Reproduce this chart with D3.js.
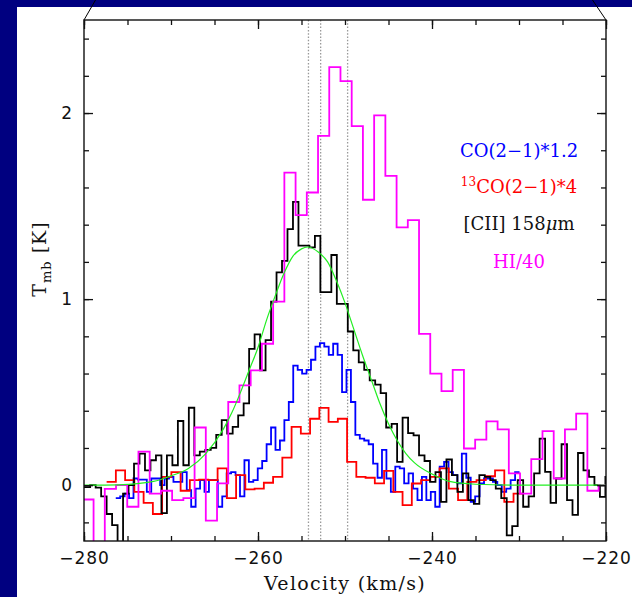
<!DOCTYPE html>
<html>
<head>
<meta charset="utf-8">
<script src="https://cdn.jsdelivr.net/npm/d3@7"></script>
<style>
body { margin: 0; background: #000080; }
svg { display: block; }
</style>
</head>
<body>
<svg width="632" height="597"></svg>
<script>

// [CII] 158um, 0.63 km/s channels
var ciiStart = -280.55, ciiWidth = 0.63;
var ciiValues = [
    -0.01, -0.01, 0.0, -0.013, -0.06, -0.155, -0.215, -0.4, -0.045, 0.0,
    0.116, 0.17, 0.08, 0.134, 0.16, -0.15, 0.16, 0.107, 0.345, 0.107,
    0.416, 0.16, 0.18, 0.19, 0.2, 0.27, 0.35, 0.277, 0.313, 0.375,
    0.44, 0.733, 0.81, 0.617, 0.78, 0.987, 1.144, 1.206, 1.376, 1.523,
    1.287, 1.287, 1.278, 1.34, 1.037, 1.037, 1.237, 0.974, 0.974, 0.826,
    0.724, 0.66, 0.62, 0.563, 0.54, 0.495, 0.31, 0.33, 0.125, 0.363,
    0.28, 0.268, 0.16, 0.13, 0.018, 0.07, -0.09, 0.138, 0.054, -0.036,
    0.063, -0.08, -0.1, 0.054, 0.045, 0.027, -0.018, -0.07, -0.27, -0.22,
    0.027, -0.116, -0.06, 0.063, 0.25, 0.071, -0.095, 0.036, 0.22, -0.08,
    -0.16, 0.173, 0.08, 0.045, 0.0, -0.063, 0.045
];

// CO(2-1)*1.2, 0.51 km/s channels
var coStart = -276.35, coWidth = 0.51;
var coValues = [
    -0.07, -0.06, -0.045, -0.07, 0.036, 0.03, 0.03, -0.036, 0.036, 0.036,
    0.0, 0.036, 0.045, 0.018, 0.018, 0.07, -0.027, -0.116, -0.018, 0.027,
    -0.036, 0.027, 0.027, -0.116, -0.06, 0.063, 0.07, 0.054, -0.06, 0.134,
    0.018, 0.027, 0.09, 0.13, 0.22, 0.31, 0.19, 0.24, 0.35, 0.447,
    0.643, 0.62, 0.60, 0.62, 0.674, 0.745, 0.763, 0.745, 0.70, 0.76,
    0.70, 0.5, 0.62, 0.447, 0.27, 0.25, 0.24, 0.22, 0.116, 0.04,
    0.19, 0.036, -0.036, 0.1, 0.09, 0.01, 0.063, -0.018, -0.08, 0.045,
    -0.08, -0.036, -0.116, 0.1, 0.125, 0.07, 0.054, 0.01, 0.17, 0.04,
    -0.09, -0.06, 0.009, 0.036, 0.036, 0.018, 0.0, -0.036, -0.018, 0.027,
    0.07
];

// 13CO(2-1)*4, 1.063 km/s channels
var co13Start = -277.4, co13Width = 1.063;
var co13Values = [
    0.018, 0.08, 0.027, -0.036, -0.095, -0.155, 0.045, 0.07, -0.03, 0.027,
    0.03, 0.027, 0.09, -0.07, 0.054, -0.023, -0.018, 0.013, 0.045, 0.148,
    0.313, 0.277, 0.357, 0.415, 0.34, 0.357, 0.125, 0.045, 0.04, 0.01,
    0.077, -0.036, -0.107, 0.009, 0.027, 0.045, 0.09, -0.018, -0.08, 0.018,
    0.027, 0.048, 0.08, -0.09, -0.045
];

// HI/40, 1.29 km/s channels
var hiStart = -280.19, hiWidth = 1.29;
var hiValues = [
    -0.077, -0.4, -0.02, 0.0, -0.116, 0.18, -0.045, -0.03, -0.08, -0.07,
    0.31, -0.19, 0.01, 0.447, 0.536, 0.617, 0.76, 0.987, 1.68, 1.451,
    1.573, 1.877, 2.247, 2.172, 1.93, 1.534, 1.987, 1.662, 1.385, 1.424,
    0.813, 0.60, 0.506, 0.62, 0.197, 0.245, 0.343, 0.30, 0.063, -0.045,
    0.14, 0.29, 0.036, 0.30, 0.385, -0.03, 0.0
];

// gaussian fit to [CII]
var fitVelocity = [-280, -276, -272, -270, -268, -266, -264, -263, -262, -261,
    -260, -259, -258, -257, -256, -255, -254.3, -253, -252, -251,
    -250, -249, -248, -247, -246, -245, -244, -243, -242, -240,
    -238, -235, -230, -220];
var fitValues = [0.0, 0.002, 0.02, 0.05, 0.09, 0.17, 0.30, 0.39, 0.50, 0.62,
    0.74, 0.89, 1.02, 1.14, 1.23, 1.27, 1.28, 1.25, 1.20, 1.10,
    0.98, 0.84, 0.70, 0.57, 0.44, 0.33, 0.24, 0.17, 0.12, 0.06,
    0.02, 0.005, 0.0, 0.0];

var markerVelocities = [-254.2, -252.8, -249.7];

var xMajorTicks = [-280, -260, -240, -220];
var yMajorTicks = [0, 1, 2];

var svg = d3.select("svg");

var x = d3.scaleLinear().domain([-280, -220]).range([84, 606]);
var y = d3.scaleLinear().domain([-0.3, 2.5]).range([541, 20]);

// white panel + zoom lines from the figure above
svg.append("rect")
    .attr("x", 17).attr("y", 7)
    .attr("width", 615).attr("height", 590)
    .attr("fill", "#fff");
svg.append("line").attr("x1", 95.5).attr("y1", 0).attr("x2", 84).attr("y2", 20)
    .attr("stroke", "#000").attr("stroke-width", 1);
svg.append("line").attr("x1", 592.5).attr("y1", 0).attr("x2", 606).attr("y2", 20)
    .attr("stroke", "#000").attr("stroke-width", 1);

svg.append("clipPath").attr("id", "plotclip")
    .append("rect")
    .attr("x", 84).attr("y", 20)
    .attr("width", 522).attr("height", 521);

var plot = svg.append("g").attr("clip-path", "url(#plotclip)");

plot.selectAll("line.marker")
    .data(markerVelocities)
    .enter().append("line")
    .attr("class", "marker")
    .attr("x1", function(d) { return x(d); })
    .attr("x2", function(d) { return x(d); })
    .attr("y1", y(2.5)).attr("y2", y(-0.3))
    .attr("stroke", "#999")
    .attr("stroke-width", 1.3)
    .attr("stroke-dasharray", "1.5,1.8");

function stepPoints(start, width, values) {
    var pts = values.map(function(v, i) { return [start + i * width, v]; });
    pts.push([start + values.length * width, values[values.length - 1]]);
    return pts;
}

var stepLine = d3.line()
    .x(function(d) { return x(d[0]); })
    .y(function(d) { return y(d[1]); })
    .curve(d3.curveStepAfter);

var spectra = [
    {pts: stepPoints(coStart, coWidth, coValues), color: "#0000ff"},
    {pts: stepPoints(co13Start, co13Width, co13Values), color: "#ff0000"},
    {pts: stepPoints(ciiStart, ciiWidth, ciiValues), color: "#000000"},
    {pts: stepPoints(hiStart, hiWidth, hiValues), color: "#ff00ff"}
];

plot.selectAll("path.spec")
    .data(spectra)
    .enter().append("path")
    .attr("class", "spec")
    .attr("d", function(d) { return stepLine(d.pts); })
    .attr("fill", "none")
    .attr("stroke", function(d) { return d.color; })
    .attr("stroke-width", 1.8)
    .attr("stroke-linejoin", "miter");

var fitLine = d3.line()
    .x(function(d, i) { return x(fitVelocity[i]); })
    .y(function(d) { return y(d); })
    .curve(d3.curveMonotoneX);

plot.append("path")
    .attr("d", fitLine(fitValues))
    .attr("fill", "none")
    .attr("stroke", "#22ee22")
    .attr("stroke-width", 1.2);

// frame
svg.append("rect")
    .attr("x", 84).attr("y", 20)
    .attr("width", 522).attr("height", 521)
    .attr("fill", "none")
    .attr("stroke", "#111")
    .attr("stroke-width", 1.4);

// axes, ticks pointing inward
function drawAxis(axis, tx, ty) {
    var g = svg.append("g")
        .attr("transform", "translate(" + tx + "," + ty + ")")
        .call(axis);
    g.select(".domain").remove();
    g.selectAll("line").attr("stroke", "#111").attr("stroke-width", 1.3);
    g.selectAll("text")
        .attr("fill", "#111")
        .style("font-family", "DejaVu Sans")
        .style("font-size", "17px")
        .style("letter-spacing", "1px");
    return g;
}

var xMinor = d3.range(-280, -219, 5);
var yMinor = d3.range(-2, 25, 2).map(function(d) { return d / 10; });

drawAxis(d3.axisBottom(x).tickValues(xMinor).tickSize(-5).tickFormat(""), 0, 541);
drawAxis(d3.axisBottom(x).tickValues(xMajorTicks).tickSize(-9).tickPadding(11), 0, 541);
drawAxis(d3.axisTop(x).tickValues(xMinor).tickSize(-5).tickFormat(""), 0, 20);
drawAxis(d3.axisTop(x).tickValues(xMajorTicks).tickSize(-9).tickFormat(""), 0, 20);
drawAxis(d3.axisLeft(y).tickValues(yMinor).tickSize(-5).tickFormat(""), 84, 0);
drawAxis(d3.axisLeft(y).tickValues(yMajorTicks).tickSize(-9).tickPadding(11).tickFormat(d3.format("d")), 84, 0);
drawAxis(d3.axisRight(y).tickValues(yMinor).tickSize(-5).tickFormat(""), 606, 0);
drawAxis(d3.axisRight(y).tickValues(yMajorTicks).tickSize(-9).tickFormat(""), 606, 0);

// axis titles
svg.append("text")
    .attr("x", 345).attr("y", 590)
    .attr("text-anchor", "middle")
    .style("font-family", "DejaVu Serif")
    .style("font-size", "19px")
    .style("letter-spacing", "1.3px")
    .attr("fill", "#111")
    .text("Velocity (km/s)");

var ylab = svg.append("text")
    .attr("transform", "translate(46,259) rotate(-90)")
    .attr("text-anchor", "middle")
    .style("font-family", "DejaVu Serif")
    .style("font-size", "19px")
    .style("letter-spacing", "1px")
    .attr("fill", "#111");
ylab.append("tspan").text("T");
ylab.append("tspan").attr("dy", 5).style("font-size", "13px").text("mb");
ylab.append("tspan").attr("dy", -5).text(" [K]");

// legend
var legend = svg.append("g")
    .style("font-family", "DejaVu Serif")
    .style("font-size", "18px")
    .attr("text-anchor", "middle");

legend.append("text").attr("x", 519).attr("y", 157)
    .attr("fill", "#0000ff").text("CO(2\u22121)*1.2");

var l2 = legend.append("text").attr("x", 519).attr("y", 193).attr("fill", "#ff0000");
l2.append("tspan").attr("dy", -7).style("font-size", "12px").text("13");
l2.append("tspan").attr("dy", 7).text("CO(2\u22121)*4");

var l3 = legend.append("text").attr("x", 519).attr("y", 230).attr("fill", "#111");
l3.append("tspan").text("[CII] 158");
l3.append("tspan").style("font-style", "italic").text("\u03bc");
l3.append("tspan").text("m");

legend.append("text").attr("x", 519).attr("y", 268)
    .attr("fill", "#ff00ff").text("HI/40");

</script>
</body>
</html>
